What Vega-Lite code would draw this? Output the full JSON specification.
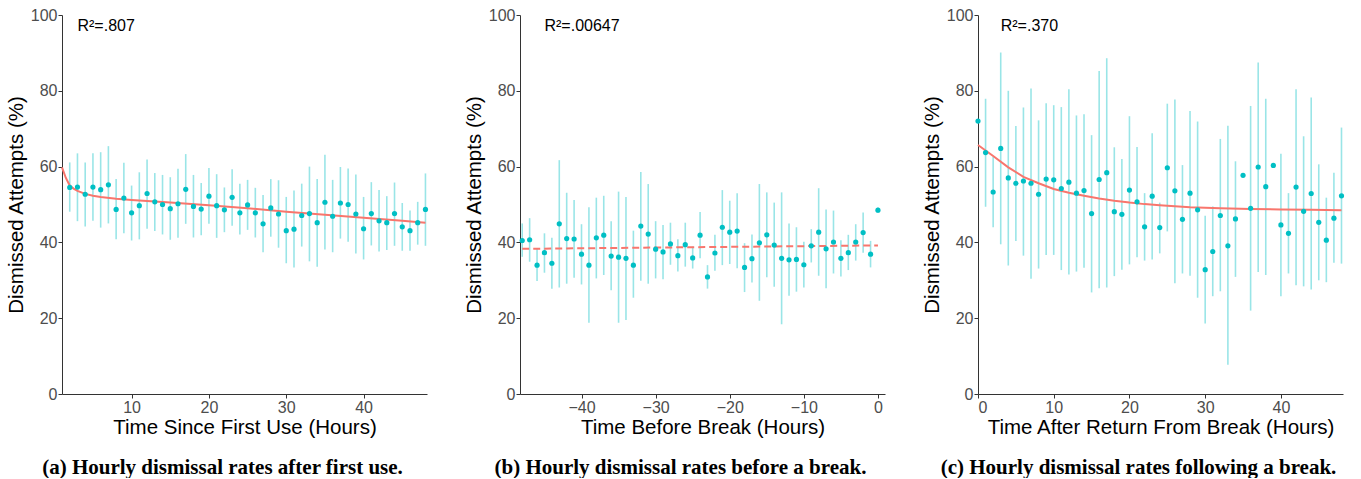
{
  "$schema": "https://vega.github.io/schema/vega-lite/v6.json",
  "padding": {"left": 6, "top": 7, "right": 0, "bottom": 0},
  "background": "white",
  "bounds": "flush",
  "spacing": 93,
  "config": {
    "view": {"stroke": null},
    "axis": {
      "grid": false,
      "domainColor": "#333333",
      "domainWidth": 1,
      "tickColor": "#333333",
      "tickSize": 4,
      "labelFont": "Liberation Sans",
      "labelFontSize": 16,
      "labelColor": "#4d4d4d",
      "labelPadding": 1,
      "titleFont": "Liberation Sans",
      "titleFontSize": 20.5,
      "titleFontWeight": "normal",
      "titleColor": "#000000"
    },
    "axisX": {"titlePadding": 2},
    "axisY": {"titlePadding": 4},
    "title": {
      "orient": "bottom",
      "anchor": "middle",
      "font": "Liberation Serif",
      "fontSize": 21,
      "fontWeight": "bold",
      "color": "#000000",
      "offset": 19,
      "dx": -22
    }
  },
  "datasets": {
    "a": [
      {"h":2,"m":54.5,"lo":48.1,"hi":61.1},{"h":3,"m":54.6,"lo":45.6,"hi":63.5},{"h":4,"m":52.7,"lo":44.2,"hi":61.1},
      {"h":5,"m":54.6,"lo":45.7,"hi":63.5},{"h":6,"m":53.9,"lo":43.9,"hi":63.8},{"h":7,"m":55.2,"lo":45.0,"hi":65.4},
      {"h":8,"m":48.7,"lo":40.8,"hi":56.7},{"h":9,"m":51.7,"lo":42.4,"hi":61.0},{"h":10,"m":47.8,"lo":40.5,"hi":55.0},
      {"h":11,"m":49.7,"lo":40.8,"hi":58.5},{"h":12,"m":52.9,"lo":43.6,"hi":61.9},{"h":13,"m":50.7,"lo":43.0,"hi":58.3},
      {"h":14,"m":50.0,"lo":42.1,"hi":57.8},{"h":15,"m":48.9,"lo":40.7,"hi":57.2},{"h":16,"m":50.2,"lo":41.2,"hi":59.4},
      {"h":17,"m":54.0,"lo":44.9,"hi":63.3},{"h":18,"m":49.5,"lo":41.3,"hi":57.8},{"h":19,"m":48.8,"lo":41.9,"hi":55.7},
      {"h":20,"m":52.2,"lo":44.9,"hi":59.6},{"h":21,"m":49.7,"lo":41.2,"hi":58.0},{"h":22,"m":48.6,"lo":42.7,"hi":54.5},
      {"h":23,"m":51.9,"lo":44.4,"hi":59.3},{"h":24,"m":47.8,"lo":42.1,"hi":55.5},{"h":25,"m":49.9,"lo":43.3,"hi":56.5},
      {"h":26,"m":47.8,"lo":41.3,"hi":54.4},{"h":27,"m":44.9,"lo":37.4,"hi":52.5},{"h":28,"m":49.1,"lo":41.5,"hi":56.7},
      {"h":29,"m":47.5,"lo":38.6,"hi":56.4},{"h":30,"m":43.1,"lo":34.5,"hi":52.0},{"h":31,"m":43.5,"lo":33.4,"hi":53.7},
      {"h":32,"m":47.1,"lo":38.9,"hi":55.5},{"h":33,"m":47.6,"lo":35.0,"hi":60.0},{"h":34,"m":45.2,"lo":33.6,"hi":56.7},
      {"h":35,"m":50.6,"lo":38.1,"hi":63.1},{"h":36,"m":46.9,"lo":37.4,"hi":56.5},{"h":37,"m":50.4,"lo":41.0,"hi":59.9},
      {"h":38,"m":50.0,"lo":40.2,"hi":59.5},{"h":39,"m":47.5,"lo":37.1,"hi":57.9},{"h":40,"m":43.6,"lo":35.5,"hi":52.0},
      {"h":41,"m":47.6,"lo":39.2,"hi":55.9},{"h":42,"m":45.7,"lo":37.6,"hi":53.8},{"h":43,"m":45.2,"lo":38.0,"hi":52.2},
      {"h":44,"m":47.6,"lo":39.1,"hi":55.8},{"h":45,"m":44.1,"lo":37.8,"hi":50.4},{"h":46,"m":43.1,"lo":37.8,"hi":48.4},
      {"h":47,"m":45.2,"lo":39.4,"hi":50.7},{"h":48,"m":48.7,"lo":39.1,"hi":58.2}
    ],
    "ca": [
      {"h":1,"f":59.8},{"h":1.5,"f":57.0},{"h":2,"f":55.0},{"h":2.5,"f":54.2},{"h":3,"f":53.6},{"h":4,"f":52.8},
      {"h":5,"f":52.3},{"h":6,"f":52.0},{"h":8,"f":51.5},{"h":10,"f":51.2},{"h":15,"f":50.5},{"h":20,"f":49.8},
      {"h":25,"f":49.0},{"h":30,"f":48.1},{"h":35,"f":47.3},{"h":40,"f":46.5},{"h":45,"f":45.7},{"h":48,"f":45.2}
    ],
    "b": [
      {"h":-48,"m":40.5,"lo":36.2,"hi":45.0},{"h":-47,"m":40.7,"lo":34.9,"hi":46.4},{"h":-46,"m":34.0,"lo":29.8,"hi":38.4},
      {"h":-45,"m":37.3,"lo":32.0,"hi":42.4},{"h":-44,"m":34.5,"lo":27.8,"hi":41.2},{"h":-43,"m":44.9,"lo":28.1,"hi":61.7},
      {"h":-42,"m":41.0,"lo":29.1,"hi":53.1},{"h":-41,"m":40.9,"lo":30.7,"hi":51.2},{"h":-40,"m":36.9,"lo":28.9,"hi":44.8},
      {"h":-39,"m":34.0,"lo":18.8,"hi":49.3},{"h":-38,"m":41.2,"lo":30.5,"hi":51.8},{"h":-37,"m":41.9,"lo":31.4,"hi":52.3},
      {"h":-36,"m":36.4,"lo":27.4,"hi":45.6},{"h":-35,"m":36.1,"lo":18.8,"hi":53.4},{"h":-34,"m":35.8,"lo":19.5,"hi":52.0},
      {"h":-33,"m":34.0,"lo":25.4,"hi":43.1},{"h":-32,"m":44.3,"lo":29.9,"hi":58.6},{"h":-31,"m":42.2,"lo":29.1,"hi":55.4},
      {"h":-30,"m":38.2,"lo":30.5,"hi":45.6},{"h":-29,"m":37.5,"lo":30.3,"hi":44.6},{"h":-28,"m":39.6,"lo":34.1,"hi":45.2},
      {"h":-27,"m":36.5,"lo":32.3,"hi":40.8},{"h":-26,"m":39.4,"lo":33.6,"hi":45.2},{"h":-25,"m":35.9,"lo":33.1,"hi":38.9},
      {"h":-24,"m":41.9,"lo":35.8,"hi":48.0},{"h":-23,"m":30.9,"lo":27.8,"hi":34.0},{"h":-22,"m":37.2,"lo":32.5,"hi":42.0},
      {"h":-21,"m":44.0,"lo":34.0,"hi":53.8},{"h":-20,"m":42.7,"lo":34.3,"hi":51.0},{"h":-19,"m":43.0,"lo":33.2,"hi":53.0},
      {"h":-18,"m":33.4,"lo":26.9,"hi":39.8},{"h":-17,"m":35.7,"lo":29.4,"hi":42.1},{"h":-16,"m":39.9,"lo":24.6,"hi":55.4},
      {"h":-15,"m":42.0,"lo":30.8,"hi":53.2},{"h":-14,"m":39.3,"lo":28.3,"hi":50.5},{"h":-13,"m":35.8,"lo":18.4,"hi":53.2},
      {"h":-12,"m":35.4,"lo":25.9,"hi":45.0},{"h":-11,"m":35.5,"lo":27.0,"hi":44.0},{"h":-10,"m":34.1,"lo":28.1,"hi":40.2},
      {"h":-9,"m":39.1,"lo":34.7,"hi":43.5},{"h":-8,"m":42.7,"lo":31.2,"hi":54.3},{"h":-7,"m":38.3,"lo":27.9,"hi":48.7},
      {"h":-6,"m":40.1,"lo":31.8,"hi":48.4},{"h":-5,"m":35.8,"lo":31.0,"hi":40.6},{"h":-4,"m":37.3,"lo":32.7,"hi":42.0},
      {"h":-3,"m":40.1,"lo":35.2,"hi":44.8},{"h":-2,"m":42.6,"lo":37.3,"hi":47.9},{"h":-1,"m":36.9,"lo":33.4,"hi":40.4},
      {"h":0,"m":48.5,"lo":47.8,"hi":49.2}
    ],
    "cb": [{"h":-48,"f":38.3},{"h":0,"f":39.2}],
    "c": [
      {"h":0,"m":72.0,"lo":null,"hi":null},{"h":1,"m":63.7,"lo":49.4,"hi":77.9},{"h":2,"m":53.3,"lo":44.0,"hi":62.6},
      {"h":3,"m":64.8,"lo":39.5,"hi":90.1},{"h":4,"m":57.0,"lo":33.9,"hi":80.0},{"h":5,"m":55.6,"lo":40.4,"hi":70.7},
      {"h":6,"m":56.2,"lo":36.5,"hi":75.6},{"h":7,"m":55.6,"lo":30.4,"hi":80.6},{"h":8,"m":52.7,"lo":33.1,"hi":72.2},
      {"h":9,"m":56.7,"lo":36.7,"hi":76.7},{"h":10,"m":56.5,"lo":36.7,"hi":76.2},{"h":11,"m":54.2,"lo":32.7,"hi":75.7},
      {"h":12,"m":55.9,"lo":31.5,"hi":80.4},{"h":13,"m":53.0,"lo":32.3,"hi":73.5},{"h":14,"m":53.7,"lo":33.3,"hi":73.8},
      {"h":15,"m":47.6,"lo":26.8,"hi":68.3},{"h":16,"m":56.6,"lo":27.9,"hi":85.2},{"h":17,"m":58.4,"lo":28.1,"hi":88.6},
      {"h":18,"m":48.1,"lo":31.1,"hi":65.1},{"h":19,"m":47.4,"lo":32.8,"hi":62.0},{"h":20,"m":53.8,"lo":34.2,"hi":73.3},
      {"h":21,"m":50.7,"lo":36.1,"hi":65.2},{"h":22,"m":44.1,"lo":35.2,"hi":53.0},{"h":23,"m":52.2,"lo":35.5,"hi":68.8},
      {"h":24,"m":43.9,"lo":37.1,"hi":50.5},{"h":25,"m":59.7,"lo":42.9,"hi":76.6},{"h":26,"m":53.6,"lo":29.2,"hi":77.7},
      {"h":27,"m":46.1,"lo":31.8,"hi":60.4},{"h":28,"m":53.0,"lo":31.2,"hi":74.7},{"h":29,"m":48.6,"lo":25.4,"hi":71.9},
      {"h":30,"m":32.8,"lo":18.6,"hi":47.0},{"h":31,"m":37.6,"lo":25.8,"hi":49.5},{"h":32,"m":47.1,"lo":27.1,"hi":67.3},
      {"h":33,"m":39.1,"lo":7.7,"hi":70.8},{"h":34,"m":46.2,"lo":30.9,"hi":61.4},{"h":35,"m":57.7,"lo":null,"hi":null},
      {"h":36,"m":49.0,"lo":22.0,"hi":76.0},{"h":37,"m":59.9,"lo":32.2,"hi":87.5},{"h":38,"m":54.7,"lo":31.4,"hi":77.9},
      {"h":39,"m":60.3,"lo":null,"hi":null},{"h":40,"m":44.6,"lo":25.8,"hi":63.4},{"h":41,"m":42.4,"lo":31.8,"hi":53.0},
      {"h":42,"m":54.6,"lo":28.7,"hi":80.4},{"h":43,"m":48.2,"lo":28.4,"hi":68.0},{"h":44,"m":52.9,"lo":27.6,"hi":78.2},
      {"h":45,"m":45.3,"lo":30.0,"hi":60.6},{"h":46,"m":40.6,"lo":29.5,"hi":51.8},{"h":47,"m":46.4,"lo":34.6,"hi":58.4},
      {"h":48,"m":52.3,"lo":34.4,"hi":70.3}
    ],
    "cc": [
      {"h":0,"f":65.7},{"h":2,"f":62.8},{"h":4,"f":59.8},{"h":6,"f":57.3},{"h":8,"f":55.6},{"h":10,"f":54.1},
      {"h":12,"f":53.1},{"h":14,"f":52.3},{"h":16,"f":51.6},{"h":18,"f":51.0},{"h":20,"f":50.5},{"h":22,"f":50.1},
      {"h":24,"f":49.8},{"h":28,"f":49.3},{"h":32,"f":49.0},{"h":36,"f":48.8},{"h":40,"f":48.7},{"h":44,"f":48.6},
      {"h":48,"f":48.5}
    ],
    "ra": [{"h":3,"y":97,"t":"R²=.807"}],
    "rb": [{"h":-45,"y":97,"t":"R²=.00647"}],
    "rc": [{"h":3,"y":97,"t":"R²=.370"}]
  },
  "hconcat": [
    {
      "width": 365, "height": 379,
      "title": {"text": "(a) Hourly dismissal rates after first use."},
      "layer": [
        {
          "data": {"name": "a"},
          "transform": [{"filter": "isValid(datum.lo)"}],
          "mark": {"type": "rule", "color": "#00BFC4", "opacity": 0.4, "strokeWidth": 1.6},
          "encoding": {
            "x": {"field": "h", "type": "quantitative", "scale": {"domain": [1, 48.2], "nice": false, "zero": false},
                  "axis": {"title": "Time Since First Use (Hours)", "values": [10, 20, 30, 40]}},
            "y": {"field": "lo", "type": "quantitative", "scale": {"domain": [0, 100], "nice": false},
                  "axis": {"title": "Dismissed Attempts (%)", "values": [0, 20, 40, 60, 80, 100]}},
            "y2": {"field": "hi"}
          }
        },
        {
          "data": {"name": "ca"},
          "mark": {"type": "line", "color": "#F8766D", "strokeWidth": 2},
          "encoding": {"x": {"field": "h", "type": "quantitative"}, "y": {"field": "f", "type": "quantitative"}}
        },
        {
          "data": {"name": "a"},
          "mark": {"type": "point", "filled": true, "color": "#00BFC4", "opacity": 1, "size": 27},
          "encoding": {"x": {"field": "h", "type": "quantitative"}, "y": {"field": "m", "type": "quantitative"}}
        },
        {
          "data": {"name": "ra"},
          "mark": {"type": "text", "align": "left", "baseline": "middle", "font": "Liberation Sans", "fontSize": 16, "color": "#000000"},
          "encoding": {"x": {"field": "h", "type": "quantitative"}, "y": {"field": "y", "type": "quantitative"}, "text": {"field": "t"}}
        }
      ]
    },
    {
      "width": 365, "height": 379,
      "title": {"text": "(b) Hourly dismissal rates before a break."},
      "layer": [
        {
          "data": {"name": "b"},
          "mark": {"type": "rule", "color": "#00BFC4", "opacity": 0.4, "strokeWidth": 1.6},
          "encoding": {
            "x": {"field": "h", "type": "quantitative", "scale": {"domain": [-48.3, 0.95], "nice": false, "zero": false},
                  "axis": {"title": "Time Before Break (Hours)", "values": [-40, -30, -20, -10, 0]}},
            "y": {"field": "lo", "type": "quantitative", "scale": {"domain": [0, 100], "nice": false},
                  "axis": {"title": "Dismissed Attempts (%)", "values": [0, 20, 40, 60, 80, 100]}},
            "y2": {"field": "hi"}
          }
        },
        {
          "data": {"name": "cb"},
          "mark": {"type": "line", "color": "#F8766D", "strokeWidth": 2, "strokeDash": [7, 4]},
          "encoding": {"x": {"field": "h", "type": "quantitative"}, "y": {"field": "f", "type": "quantitative"}}
        },
        {
          "data": {"name": "b"},
          "mark": {"type": "point", "filled": true, "color": "#00BFC4", "opacity": 1, "size": 27},
          "encoding": {"x": {"field": "h", "type": "quantitative"}, "y": {"field": "m", "type": "quantitative"}}
        },
        {
          "data": {"name": "rb"},
          "mark": {"type": "text", "align": "left", "baseline": "middle", "font": "Liberation Sans", "fontSize": 16, "color": "#000000"},
          "encoding": {"x": {"field": "h", "type": "quantitative"}, "y": {"field": "y", "type": "quantitative"}, "text": {"field": "t"}}
        }
      ]
    },
    {
      "width": 365, "height": 379,
      "title": {"text": "(c) Hourly dismissal rates following a break."},
      "layer": [
        {
          "data": {"name": "c"},
          "transform": [{"filter": "isValid(datum.lo)"}],
          "mark": {"type": "rule", "color": "#00BFC4", "opacity": 0.4, "strokeWidth": 1.6},
          "encoding": {
            "x": {"field": "h", "type": "quantitative", "scale": {"domain": [0, 48.2], "nice": false, "zero": false},
                  "axis": {"title": "Time After Return From Break (Hours)", "values": [0, 10, 20, 30, 40]}},
            "y": {"field": "lo", "type": "quantitative", "scale": {"domain": [0, 100], "nice": false},
                  "axis": {"title": "Dismissed Attempts (%)", "values": [0, 20, 40, 60, 80, 100]}},
            "y2": {"field": "hi"}
          }
        },
        {
          "data": {"name": "cc"},
          "mark": {"type": "line", "color": "#F8766D", "strokeWidth": 2},
          "encoding": {"x": {"field": "h", "type": "quantitative"}, "y": {"field": "f", "type": "quantitative"}}
        },
        {
          "data": {"name": "c"},
          "mark": {"type": "point", "filled": true, "color": "#00BFC4", "opacity": 1, "size": 27},
          "encoding": {"x": {"field": "h", "type": "quantitative"}, "y": {"field": "m", "type": "quantitative"}}
        },
        {
          "data": {"name": "rc"},
          "mark": {"type": "text", "align": "left", "baseline": "middle", "font": "Liberation Sans", "fontSize": 16, "color": "#000000"},
          "encoding": {"x": {"field": "h", "type": "quantitative"}, "y": {"field": "y", "type": "quantitative"}, "text": {"field": "t"}}
        }
      ]
    }
  ]
}
